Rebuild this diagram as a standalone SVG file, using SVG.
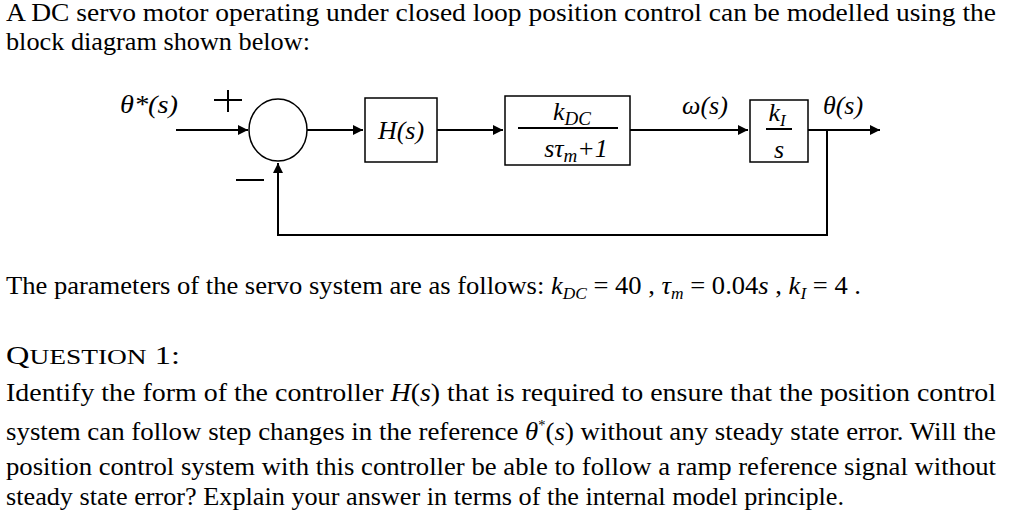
<svg xmlns="http://www.w3.org/2000/svg" width="1024" height="518" viewBox="0 0 1024 518" font-family="'Liberation Serif','Times New Roman','DejaVu Serif',serif">
<style>
text{font-family:'Liberation Serif','Times New Roman','DejaVu Serif',serif}
.t{font-size:26px;fill:#000}
.b{fill:#fff;stroke:#000;stroke-width:1.5}
.l{stroke:#000;stroke-width:2;fill:none}
.i{font-style:italic;font-size:26px}
</style>
<defs>
<marker id="A" viewBox="0 0 10 10" refX="10" refY="5" markerWidth="14" markerHeight="10" orient="auto" markerUnits="userSpaceOnUse"><path d="M0,0L10,5L0,10z"/></marker></defs>
<text class="t" x="6" y="21" textLength="990" lengthAdjust="spacingAndGlyphs">A DC servo motor operating under closed loop position control can be modelled using the</text>
<text class="t" x="6" y="50" textLength="304" lengthAdjust="spacingAndGlyphs">block diagram shown below:</text>
<g id="connectors" class="l">
<path d="M176,130H248" marker-end="url(#A)"/>
<path d="M307,130H363" marker-end="url(#A)"/>
<path d="M437,130H503" marker-end="url(#A)"/>
<path d="M630,130H748" marker-end="url(#A)"/>
<path d="M808,130H880" marker-end="url(#A)"/>
<path d="M827,130V235H278V163" marker-end="url(#A)"/>
</g>
<g id="sum"><ellipse cx="278" cy="130" rx="29" ry="31" class="b" stroke-width="2"/>
<path d="M214,100H242M228,90V112M236,180H264" class="l" stroke-width="1.5"/>
<text class="i" x="120" y="113" textLength="58" lengthAdjust="spacingAndGlyphs">θ*(s)</text></g>
<g id="H"><rect x="365" y="98" width="72" height="64" class="b"/><text class="i" x="401" y="139" text-anchor="middle">H(s)</text></g>
<g id="plant"><rect x="505" y="96" width="125" height="69" class="b" stroke-width="2.5"/>
<text class="i" x="572" y="120" text-anchor="middle">k<tspan font-size="19" dy="5">DC</tspan></text>
<path d="M518,128H618" class="l" stroke-width="1.3"/>
<text class="i" x="576" y="157" text-anchor="middle">sτ<tspan font-size="19" dy="5">m</tspan><tspan dy="-5">+1</tspan></text></g>
<text class="i" x="705" y="114" text-anchor="middle">ω(s)</text>
<g id="int"><rect x="750" y="100" width="58" height="62" class="b"/>
<text class="i" x="777" y="121" text-anchor="middle">k<tspan font-size="17" dy="5">I</tspan></text>
<path d="M766,129H792" class="l" stroke-width="1.3"/>
<text class="i" x="779" y="158" text-anchor="middle">s</text></g>
<text class="i" x="843" y="114" text-anchor="middle">θ(s)</text>
<text class="t" x="6" y="294" textLength="855" lengthAdjust="spacingAndGlyphs">The parameters of the servo system are as follows: <tspan font-style="italic">k</tspan><tspan font-style="italic" font-size="17" dy="5">DC</tspan><tspan dy="-5"> = 40 , </tspan><tspan font-style="italic">τ</tspan><tspan font-style="italic" font-size="17" dy="5">m</tspan><tspan dy="-5"> = 0.04</tspan><tspan font-style="italic">s</tspan> , <tspan font-style="italic">k</tspan><tspan font-style="italic" font-size="17" dy="5">I</tspan><tspan dy="-5"> = 4 .</tspan></text>
<text class="t" x="6" y="364" font-size="28" textLength="174" lengthAdjust="spacingAndGlyphs">Q<tspan font-size="22">UESTION</tspan> 1:</text>
<text class="t" x="6" y="401" textLength="990" lengthAdjust="spacingAndGlyphs">Identify the form of the controller <tspan font-style="italic">H</tspan>(<tspan font-style="italic">s</tspan>) that is required to ensure that the position control</text>
<text class="t" x="6" y="440" textLength="990" lengthAdjust="spacingAndGlyphs">system can follow step changes in the reference <tspan font-style="italic">θ</tspan><tspan font-size="14" dy="-10">*</tspan><tspan dy="10">(</tspan><tspan font-style="italic">s</tspan>) without any steady state error. Will the</text>
<text class="t" x="6" y="475" textLength="990" lengthAdjust="spacingAndGlyphs">position control system with this controller be able to follow a ramp reference signal without</text>
<text class="t" x="6" y="505" textLength="838" lengthAdjust="spacingAndGlyphs">steady state error? Explain your answer in terms of the internal model principle.</text>
</svg>
